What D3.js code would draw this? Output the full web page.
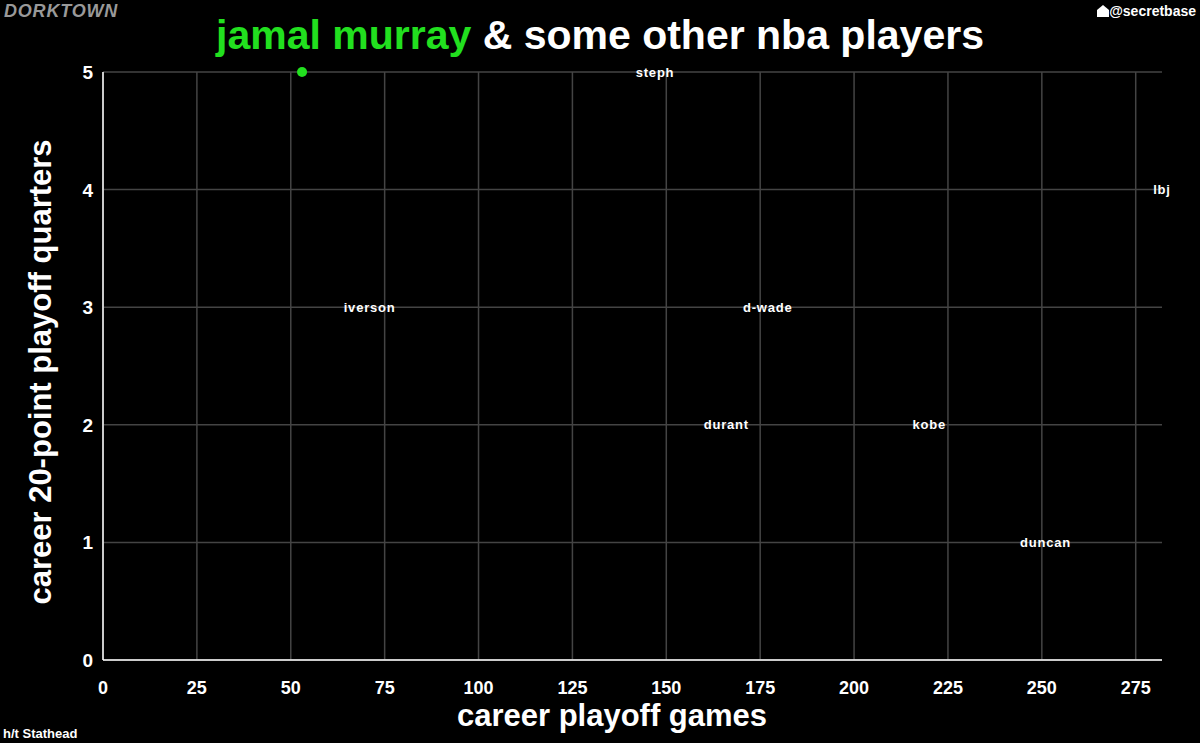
<!DOCTYPE html>
<html>
<head>
<meta charset="utf-8">
<script src="https://cdn.jsdelivr.net/npm/d3@7"></script>
<style>
  body { margin: 0; background: #000; }
  text { font-family: "Liberation Sans", Arial, sans-serif; }
</style>
</head>
<body>
<svg id="chart" width="1200" height="743"></svg>
<script>
const players = ['steph', 'lbj', 'iverson', 'd-wade', 'durant', 'kobe', 'duncan'];
const games = [147, 282, 71, 177, 166, 220, 251];
const quarters = [5, 4, 3, 3, 2, 2, 1];
const murray = { games: 53, quarters: 5 };
const xTicks = [0, 25, 50, 75, 100, 125, 150, 175, 200, 225, 250, 275];
const yTicks = [0, 1, 2, 3, 4, 5];

const svg = d3.select('#chart');
const margin = {top: 72, right: 38, bottom: 83, left: 103};
const w = 1200 - margin.left - margin.right;
const h = 743 - margin.top - margin.bottom;

const x = d3.scaleLinear().domain([0, 282]).range([0, w]);
const y = d3.scaleLinear().domain([0, 5]).range([h, 0]);

svg.append('rect').attr('width', 1200).attr('height', 743).attr('fill', '#000');

const main = svg.append('g').attr('transform', `translate(${margin.left},${margin.top})`);

// grids
main.append('g').selectAll('line').data(xTicks).join('line')
  .attr('x1', d => x(d)).attr('x2', d => x(d))
  .attr('y1', 0).attr('y2', h)
  .attr('stroke', '#444').attr('stroke-width', 1.5);
main.append('g').selectAll('line').data(yTicks).join('line')
  .attr('x1', 0).attr('x2', w)
  .attr('y1', d => y(d)).attr('y2', d => y(d))
  .attr('stroke', '#444').attr('stroke-width', 1.5);

// axis lines
main.append('line').attr('x1', 0).attr('x2', 0).attr('y1', 0).attr('y2', h)
  .attr('stroke', '#fff').attr('stroke-width', 1.5);
main.append('line').attr('x1', 0).attr('x2', w).attr('y1', h).attr('y2', h)
  .attr('stroke', '#fff').attr('stroke-width', 1.5);

// tick labels
main.append('g').selectAll('text').data(xTicks).join('text')
  .attr('x', d => x(d)).attr('y', h + 34)
  .attr('text-anchor', 'middle').attr('fill', '#fff')
  .attr('font-size', 18).attr('font-weight', 'bold').text(d => d);
main.append('g').selectAll('text').data(yTicks).join('text')
  .attr('x', -10).attr('y', d => y(d) + 7)
  .attr('text-anchor', 'end').attr('fill', '#fff')
  .attr('font-size', 19).attr('font-weight', 'bold').text(d => d);

// labels for other players
main.append('g').selectAll('text').data(players).join('text')
  .attr('x', (d, i) => x(games[i])).attr('y', (d, i) => y(quarters[i]) + 4.5)
  .attr('text-anchor', 'middle').attr('fill', '#fff')
  .attr('font-size', 13).attr('font-weight', 'bold')
  .attr('letter-spacing', 0.8).text(d => d);

// murray
main.append('circle').attr('cx', x(murray.games)).attr('cy', y(murray.quarters))
  .attr('r', 5).attr('fill', '#22e01f');

// titles
const title = svg.append('text').attr('x', 600).attr('y', 49)
  .attr('text-anchor', 'middle').attr('font-size', 41).attr('font-weight', 'bold');
title.append('tspan').attr('fill', '#22e01f').text('jamal murray');
title.append('tspan').attr('fill', '#fff').text(' & some other nba players');

svg.append('text').attr('x', 612).attr('y', 726)
  .attr('text-anchor', 'middle').attr('fill', '#fff')
  .attr('font-size', 31).attr('font-weight', 'bold').text('career playoff games');

svg.append('text').attr('transform', 'translate(51,372) rotate(-90)')
  .attr('text-anchor', 'middle').attr('fill', '#fff')
  .attr('font-size', 31).attr('font-weight', 'bold').text('career 20-point playoff quarters');

svg.append('text').attr('x', 4).attr('y', 17)
  .attr('fill', '#999').attr('font-size', 18).attr('font-weight', 'bold')
  .attr('font-style', 'italic').attr('letter-spacing', 0.8).text('DORKTOWN');

svg.append('text').attr('x', 1196).attr('y', 16)
  .attr('text-anchor', 'end').attr('fill', '#fff')
  .attr('font-size', 14).attr('font-weight', 'bold').text('@secretbase');
svg.append('path').attr('d', 'M1097,10 L1103,5 L1109,10 L1109,17 L1097,17 Z').attr('fill', '#fff');

svg.append('text').attr('x', 3).attr('y', 738)
  .attr('fill', '#fff').attr('font-size', 13).attr('font-weight', 'bold').text('h/t Stathead');
</script>
</body>
</html>
